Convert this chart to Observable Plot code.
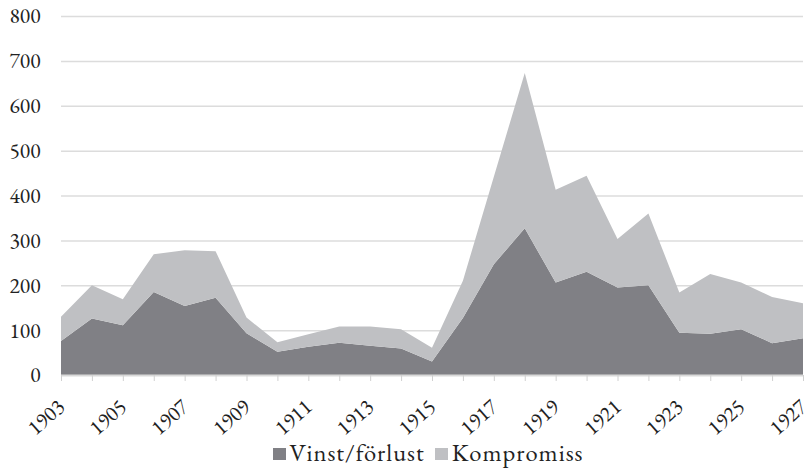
<!DOCTYPE html>
<html><head><meta charset="utf-8">
<script src="https://cdn.jsdelivr.net/npm/d3@7"></script>
<script src="https://cdn.jsdelivr.net/npm/@observablehq/plot@0.6"></script>
<style>
body{margin:0;background:#fff;}
#legend{display:flex;justify-content:center;align-items:center;font-size:24.5px;letter-spacing:1px;color:#222;height:33px;padding-left:50px;box-sizing:border-box;width:806px}
.item{display:flex;align-items:center;margin:0 5px}
.sw{width:13px;height:12px;margin-right:4px;margin-top:4px}
</style></head><body style="font-family:'EB Garamond','Liberation Serif',serif"><div id="chart"></div><div id="legend" style="font-family:'EB Garamond','Liberation Serif',serif"></div>
<script>
const years=[1903,1904,1905,1906,1907,1908,1909,1910,1911,1912,1913,1914,1915,1916,1917,1918,1919,1920,1921,1922,1923,1924,1925,1926,1927];
const vinst=[76,126,111,185,154,172,93,52,63,72,65,59,30,127,247,327,206,230,195,200,94,92,102,71,82];
const kompromiss=[54,74,58,84,124,104,35,21,28,36,43,43,31,83,195,346,207,214,108,160,90,133,104,103,78];
const seriesNames=["Vinst/förlust","Kompromiss"];
const colors=["#808085","#bfc0c3"];
const yTicks=[0,100,200,300,400,500,600,700,800];
const xLabelYears=[1903,1905,1907,1909,1911,1913,1915,1917,1919,1921,1923,1925,1927];
const FONT="EB Garamond";

const data=years.flatMap((y,i)=>[
  {year:y,series:seriesNames[0],value:vinst[i]},
  {year:y,series:seriesNames[1],value:kompromiss[i]}
]);

const chart=Plot.plot({
  width:806,height:435,marginTop:16,marginBottom:60,marginLeft:61,marginRight:3,
  style:{fontFamily:FONT,fontSize:"21px",color:"#222",background:"#fff",overflow:"visible"},
  x:{domain:[1903,1927]},
  y:{domain:[0,800]},
  color:{domain:seriesNames,range:colors},
  marks:[
    Plot.gridY(yTicks.filter(d=>d>0),{stroke:"#dcdcdc",strokeOpacity:1,strokeWidth:1.5}),
    Plot.areaY(data,{x:"year",y:"value",fill:"series",order:seriesNames}),
    Plot.ruleY([0],{stroke:"#d9d9d9",strokeWidth:2}),
    Plot.axisY(yTicks,{tickSize:0,tickPadding:21,label:null,fontSize:21.5}),
    Plot.axisX(years,{tickSize:6,tickPadding:22,stroke:"#d0d0d0",strokeOpacity:1,fill:"#222",label:null,tickRotate:-42,fontSize:21.5,
      tickFormat:d=>xLabelYears.includes(d)?String(d):""})
  ]
});
chart.querySelectorAll("text").forEach(t=>t.setAttribute("font-family",FONT));
document.getElementById("chart").appendChild(chart);

const legend=document.getElementById("legend");
seriesNames.forEach((n,i)=>{
  const it=document.createElement("div");it.className="item";
  const sw=document.createElement("div");sw.className="sw";sw.style.background=colors[i];
  const t=document.createElement("span");t.textContent=n;t.style.fontFamily=FONT;
  it.appendChild(sw);it.appendChild(t);legend.appendChild(it);
});
</script></body></html>
